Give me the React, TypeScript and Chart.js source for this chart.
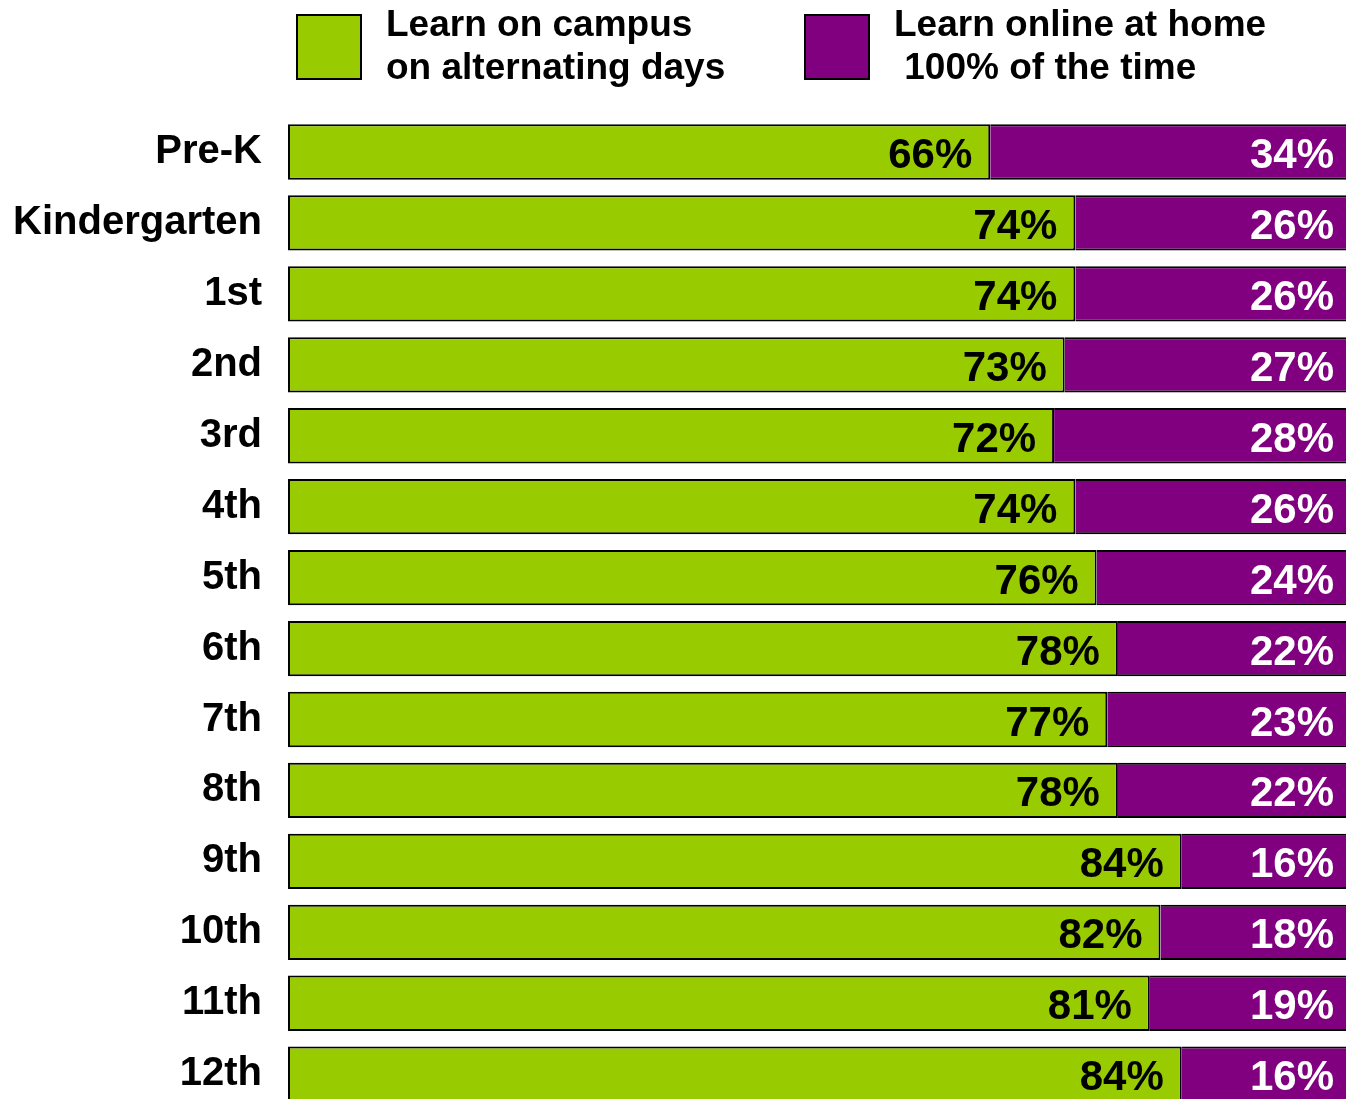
import React, { useEffect, useRef } from 'react';
import { Chart, registerables } from 'chart.js';

Chart.register(...registerables);

const categories = ['Pre-K', 'Kindergarten', '1st', '2nd', '3rd', '4th', '5th', '6th', '7th', '8th', '9th', '10th', '11th', '12th'];
const campusValues = [66, 74, 74, 73, 72, 74, 76, 78, 77, 78, 84, 82, 81, 84];
const onlineValues = [34, 26, 26, 27, 28, 26, 24, 22, 23, 22, 16, 18, 19, 16];
const campusLegend = ['Learn on campus', 'on alternating days'];
const onlineLegend = ['Learn online at home', ' 100% of the time'];
const seriesColors = ['#99CC00', '#800080'];
const labelColors = ['#000000', '#FFFFFF'];

const FONT = '"Liberation Sans", Arial, Helvetica, sans-serif';

export default function App() {
  const ref = useRef<HTMLCanvasElement>(null);

  useEffect(() => {
    if (!ref.current) return;

    const valueLabels = {
      id: 'valueLabels',
      afterDatasetsDraw(chart: any) {
        const ctx = chart.ctx;
        ctx.save();
        ctx.font = `bold 42px ${FONT}`;
        ctx.textAlign = 'right';
        ctx.textBaseline = 'alphabetic';
        chart.data.datasets.forEach((ds: any, di: number) => {
          const meta = chart.getDatasetMeta(di);
          meta.data.forEach((el: any, i: number) => {
            ctx.fillStyle = labelColors[di];
            ctx.fillText(`${ds.data[i]}%`, el.x - 18, el.y + 16);
          });
        });
        ctx.restore();
      },
    };

    const twoLineLegend = {
      id: 'twoLineLegend',
      afterDraw(chart: any) {
        const ctx = chart.ctx;
        const items = [
          { x: 296, lines: campusLegend, color: chart.data.datasets[0].backgroundColor },
          { x: 804, lines: onlineLegend, color: chart.data.datasets[1].backgroundColor },
        ];
        ctx.save();
        items.forEach((it) => {
          ctx.fillStyle = it.color;
          ctx.fillRect(it.x, 14, 66, 66);
          ctx.strokeStyle = '#000000';
          ctx.lineWidth = 2;
          ctx.strokeRect(it.x + 1, 15, 64, 64);
          ctx.fillStyle = '#000000';
          ctx.font = `bold 37px ${FONT}`;
          ctx.textAlign = 'left';
          ctx.textBaseline = 'alphabetic';
          it.lines.forEach((line, li) => {
            ctx.fillText(line, it.x + 90, 36 + li * 43);
          });
        });
        ctx.restore();
      },
    };

    const chart = new Chart(ref.current, {
      type: 'bar',
      data: {
        labels: categories,
        datasets: [
          {
            label: campusLegend.join(' '),
            data: campusValues,
            backgroundColor: seriesColors[0],
            borderColor: '#000000',
            borderWidth: 2,
            borderSkipped: false,
            categoryPercentage: 1,
            barPercentage: 0.78,
          },
          {
            label: onlineLegend.join(' '),
            data: onlineValues,
            backgroundColor: seriesColors[1],
            borderColor: '#000000',
            borderWidth: 2,
            borderSkipped: 'start',
            categoryPercentage: 1,
            barPercentage: 0.78,
          },
        ],
      },
      options: {
        indexAxis: 'y',
        animation: false,
        responsive: false,
        maintainAspectRatio: false,
        layout: { padding: { top: 116.5, right: 18, bottom: 60.3, left: 0 } },
        plugins: {
          legend: { display: false },
          tooltip: { enabled: false },
        },
        scales: {
          x: { stacked: true, min: 0, max: 100, display: false },
          y: {
            stacked: true,
            grid: { display: false, drawTicks: false },
            border: { display: false },
            ticks: {
              color: '#000000',
              font: { family: FONT, size: 40, weight: 'bold' },
              padding: 26,
              labelOffset: 0,
            },
            afterFit(scale: any) {
              scale.width = 288;
            },
          },
        },
      } as any,
      plugins: [valueLabels, twoLineLegend],
    });

    return () => chart.destroy();
  }, []);

  return (
    <div
      style={{
        position: 'fixed',
        left: 0,
        top: 0,
        width: 1346,
        height: 1099,
        overflow: 'hidden',
        background: '#ffffff',
      }}
    >
      <canvas ref={ref} width={1370} height={1170} style={{ display: 'block' }} />
    </div>
  );
}
